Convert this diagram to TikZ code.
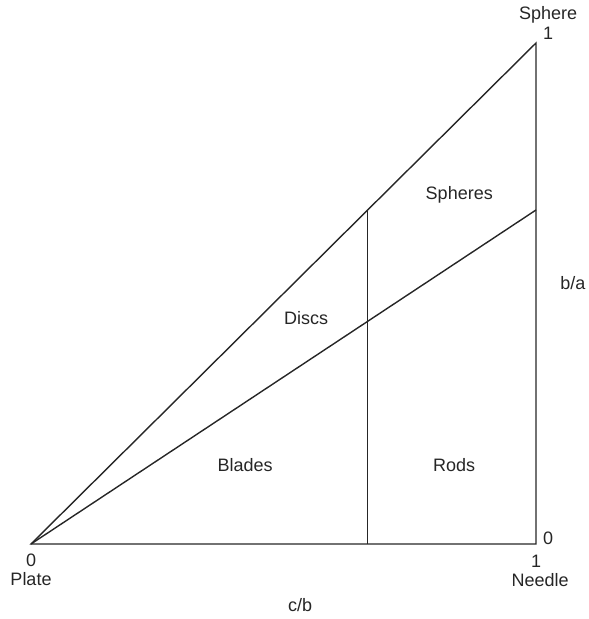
\documentclass[tikz,border=0pt]{standalone}
\usepackage{fontspec}
\setmainfont{Liberation Sans}
\usetikzlibrary{positioning}

\tikzset{
  edge/.style={draw=black!85, line width=1.4pt},
  lbl/.style={inner sep=1pt, font=\fontsize{18}{20}\selectfont, text=black!85}
}

\begin{document}
\begin{tikzpicture}[x=505pt, y=501pt]
\useasboundingbox (-0.0614,-0.1497) rectangle (1.1030,1.0858);
% corners of the diagram
\coordinate (plate) at (0,0);
\coordinate (needle) at (1,0);
\coordinate (sphere) at (1,1);
\coordinate (foot) at (2/3,0);
\coordinate (top) at (2/3,2/3);
\coordinate (mid) at (1,2/3);
% outline and dividers
\draw[edge] (plate) -- (needle) -- (sphere) -- cycle;
\draw[edge] (plate) -- (mid);
\draw[edge] (foot) -- (top);
% end labels
\node[lbl] (sname) at (1.024,1.056) {Sphere};
\node[lbl] (sone) at (1.024,1.020) {1};
\node[lbl] (pzero) at (0,-0.032) {0};
\node[lbl] (pname) at (0,-0.070) {Plate};
\node[lbl] (nzero) at (1.024,0.012) {0};
\node[lbl] (none) at (1,-0.034) {1};
\node[lbl] (nname) at (1.008,-0.072) {Needle};
% axis labels
\node[lbl] (xaxis) at (0.533,-0.122) {c/b};
\node[lbl, anchor=east] (yaxis) at (1.100,0.521) {b/a};
% regions
\node[lbl] (spheres) at (0.848,0.697) {Spheres};
\node[lbl] (discs) at (0.545,0.451) {Discs};
\node[lbl] (blades) at (0.424,0.158) {Blades};
\node[lbl] (rods) at (0.838,0.158) {Rods};
\end{tikzpicture}
\end{document}
